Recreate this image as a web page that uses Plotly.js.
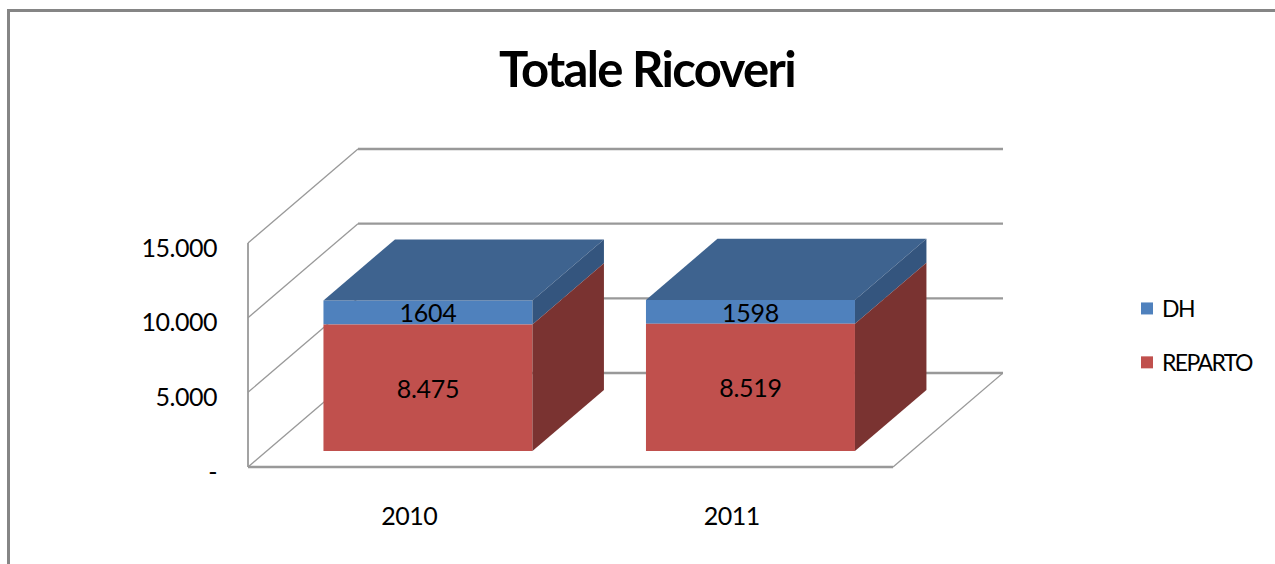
<!DOCTYPE html>
<html>
<head>
<meta charset="utf-8">
<script src="https://cdn.plot.ly/plotly-3.0.1.min.js"></script>
<style>
html,body{margin:0;padding:0;background:#fff;overflow:hidden}
#chart .gtitle{letter-spacing:-1.65px}
#chart .xtick text,#chart .ytick text{letter-spacing:-0.5px}
#chart .bartext{letter-spacing:-0.3px}
#chart .legendtext{letter-spacing:-1.6px;transform:translateX(-5px)}
</style>
</head>
<body>
<div id="chart" style="width:1275px;height:564px"></div>
<script>
const categories = ["2010", "2011"];
const reparto = [8475, 8519];
const dh = [1604, 1598];
const repartoLabels = ["8.475", "8.519"];
const dhLabels = ["1604", "1598"];
const tickValues = [0, 5000, 10000, 15000];
const tickLabels = ["-", "5.000", "10.000", "15.000"];

const colors = {
  dh: "#4F81BD", dhTop: "#3E638F", dhSide: "#34557E",
  rep: "#C0504D", repSide: "#7A3331", grid: "#999999", frame: "#858585"
};
const FONT = "Lato, 'Open Sans', sans-serif";

// Oblique projection of the chart's depth axis, in data units
const depthX = 0.341;
const depthY = 6295;
const barStart = 0.17;
const barDepth = 0.65;
const barWidth = 0.648;
const xMax = 2 + depthX;
const yMax = 15000 + depthY;
const xPad = 0.0062;
const yPad = 134;

const centers = categories.map((_, i) => i + 0.5 + barStart * depthX);
const floor = barStart * depthY;
const bases = categories.map(() => floor);
const stackBase = reparto.map(v => floor + v);
const totals = reparto.map((v, i) => floor + v + dh[i]);

function face(xs, ys, color) {
  return {type: "scatter", x: xs, y: ys, mode: "lines", fill: "toself", fillcolor: color,
          line: {width: 0, color: color}, showlegend: false, hoverinfo: "skip"};
}

const faces = [];
categories.forEach((_, i) => {
  const x1 = centers[i] + barWidth / 2, x0 = centers[i] - barWidth / 2;
  const dx = barDepth * depthX, dy = barDepth * depthY;
  faces.push(face([x0, x1, x1 + dx, x0 + dx, x0], [totals[i], totals[i], totals[i] + dy, totals[i] + dy, totals[i]], colors.dhTop));
  faces.push(face([x1, x1 + dx, x1 + dx, x1, x1], [stackBase[i], stackBase[i] + dy, totals[i] + dy, totals[i], stackBase[i]], colors.dhSide));
  faces.push(face([x1, x1 + dx, x1 + dx, x1, x1], [floor, floor + dy, stackBase[i] + dy, stackBase[i], floor], colors.repSide));
});

const traces = [
  {type: "bar", name: "DH", legendgroup: "dh", x: centers, y: dh, base: stackBase, width: barWidth,
   marker: {color: colors.dh, line: {width: 0}}, text: dhLabels, textposition: "inside",
   insidetextanchor: "middle", constraintext: "none", textangle: 0, hoverinfo: "name+y",
   insidetextfont: {family: FONT, size: 25, color: "#000"}},
  {type: "bar", name: "REPARTO", legendgroup: "rep", x: centers, y: reparto, base: bases, width: barWidth,
   marker: {color: colors.rep, line: {width: 0}}, text: repartoLabels, textposition: "inside",
   insidetextanchor: "middle", constraintext: "none", textangle: 0, hoverinfo: "name+y",
   insidetextfont: {family: FONT, size: 25, color: "#000"}}
].concat(faces);

const shapes = [];
function line(x0, y0, x1, y1, width, color) {
  shapes.push({type: "line", layer: "below", xref: "x", yref: "y", x0, y0, x1, y1,
               line: {color: color || colors.grid, width}});
}
tickValues.forEach(v => {
  line(0, v, depthX, v + depthY, 1.3);
  line(depthX, v + depthY, xMax, v + depthY, 2.4);
});
line(0, 0, 0, 15000, 1.8);
line(0, 0, 2, 0, 2.4);
line(2, 0, xMax, depthY, 1.3);

// Chart frame: left and top edges only
const plotW = 757, plotH = 322;
shapes.push({type: "line", xref: "paper", yref: "paper",
  x0: (8.5 - 246) / plotW, x1: (8.5 - 246) / plotW, y0: -95 / plotH, y1: 1 + 137 / plotH,
  line: {color: colors.frame, width: 3}});
shapes.push({type: "line", xref: "paper", yref: "paper",
  x0: (7 - 246) / plotW, x1: (1275 - 246) / plotW, y0: 1 + 136.5 / plotH, y1: 1 + 136.5 / plotH,
  line: {color: colors.frame, width: 3}});

const layout = {
  width: 1275, height: 564,
  margin: {l: 246, r: 272, t: 147, b: 95, pad: 0},
  paper_bgcolor: "#fff", plot_bgcolor: "rgba(0,0,0,0)",
  barmode: "overlay",
  title: {text: "Totale Ricoveri", xref: "container", yref: "container", x: 647 / 1275, y: 1 - 70 / 564,
          xanchor: "center", yanchor: "middle", font: {family: FONT, size: 49, color: "#000", weight: 700}},
  xaxis: {range: [-xPad, xMax], tickmode: "array", tickvals: categories.map((_, i) => i + 0.5), ticktext: categories,
          showgrid: false, zeroline: false, showline: false, ticks: "", ticklabelstandoff: 30,
          tickfont: {family: FONT, size: 25, color: "#000"}, fixedrange: true},
  yaxis: {range: [-yPad, yMax + yPad], tickmode: "array", tickvals: tickValues, ticktext: tickLabels,
          showgrid: false, zeroline: false, showline: false, ticks: "", ticklabelstandoff: 28, ticklabelshift: 5,
          tickfont: {family: FONT, size: 25, color: "#000"}, fixedrange: true},
  legend: {xref: "container", yref: "container", x: 1132 / 1275, xanchor: "left", y: 1 - 287 / 564, yanchor: "top",
           traceorder: "grouped", tracegroupgap: 21, indentation: -5, bgcolor: "rgba(0,0,0,0)",
           font: {family: FONT, size: 23, color: "#000"}, itemclick: false, itemdoubleclick: false},
  shapes: shapes,
  showlegend: true
};

Plotly.newPlot("chart", traces, layout, {displayModeBar: false});
</script>
</body>
</html>
